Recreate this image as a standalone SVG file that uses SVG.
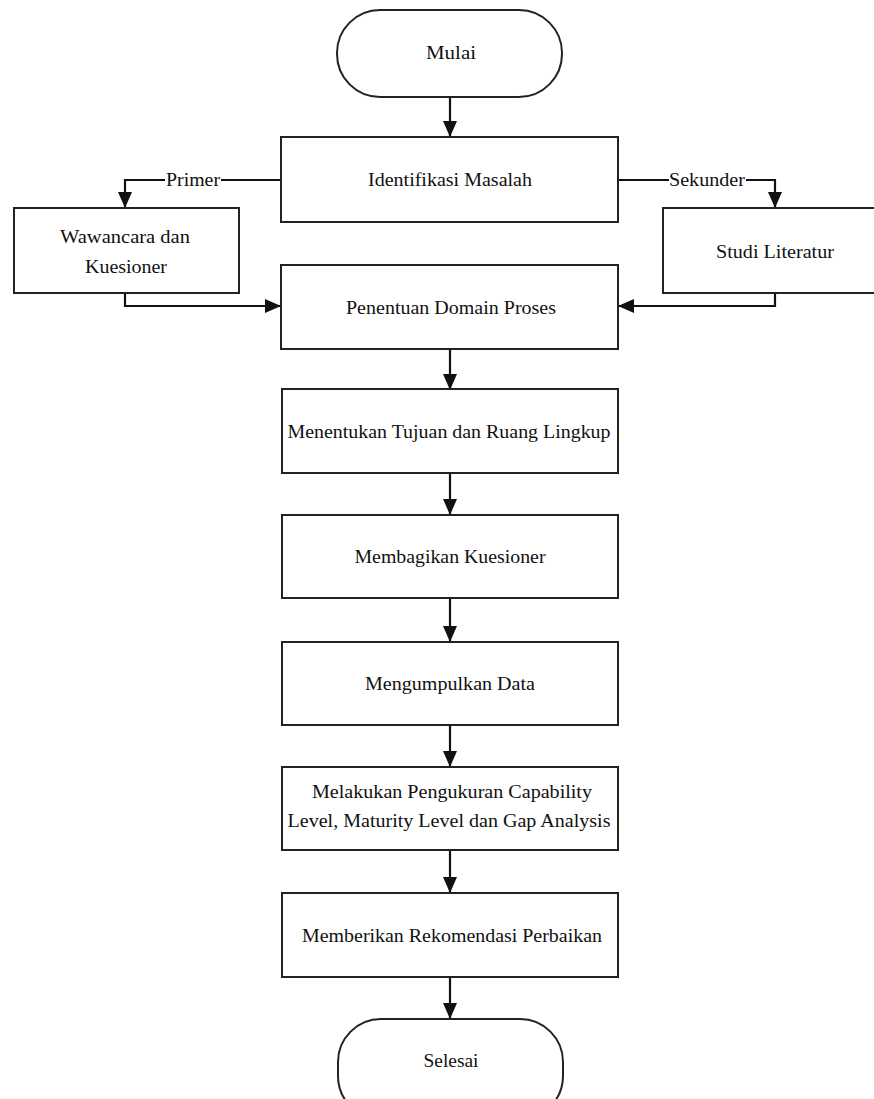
<svg xmlns="http://www.w3.org/2000/svg" width="874" height="1099" viewBox="0 0 874 1099">
<style>
.box{fill:#fff;stroke:#222;stroke-width:2}
.t{font-family:"Liberation Serif","Times New Roman",serif;font-size:18px;fill:#111;text-anchor:middle}
.c{fill:none;stroke:#111;stroke-width:2.2}
</style>
<defs>
<marker id="ah" markerWidth="16" markerHeight="14" refX="15" refY="7" orient="auto" markerUnits="userSpaceOnUse">
<path d="M0,0 L16,7 L0,14 Z" fill="#111"/>
</marker>
</defs>
<rect width="874" height="1099" fill="#fff"/>
<g id="connectors">
<line class="c" x1="450" y1="97" x2="450" y2="136" marker-end="url(#ah)"/>
<path class="c" d="M281,180 H125 V207" marker-end="url(#ah)"/>
<path class="c" d="M618,180 H775 V207" marker-end="url(#ah)"/>
<path class="c" d="M125,293 V306 H280" marker-end="url(#ah)"/>
<path class="c" d="M775,293 V306 H619" marker-end="url(#ah)"/>
<line class="c" x1="450" y1="349" x2="450" y2="389" marker-end="url(#ah)"/>
<line class="c" x1="450" y1="473" x2="450" y2="514" marker-end="url(#ah)"/>
<line class="c" x1="450" y1="598" x2="450" y2="641" marker-end="url(#ah)"/>
<line class="c" x1="450" y1="725" x2="450" y2="766" marker-end="url(#ah)"/>
<line class="c" x1="450" y1="850" x2="450" y2="892" marker-end="url(#ah)"/>
<line class="c" x1="450" y1="977" x2="450" y2="1018" marker-end="url(#ah)"/>
<rect x="165" y="171" width="56" height="18" fill="#fff"/>
<text class="t" x="193" y="186" textLength="54" lengthAdjust="spacingAndGlyphs">Primer</text>
<rect x="669" y="171" width="77" height="18" fill="#fff"/>
<text class="t" x="707" y="186" textLength="76" lengthAdjust="spacingAndGlyphs">Sekunder</text>
</g>
<g id="mulai">
<rect class="box" x="337" y="10" width="225" height="87" rx="43" ry="43"/>
<text class="t" x="451" y="59" textLength="50" lengthAdjust="spacingAndGlyphs">Mulai</text>
</g>
<g id="identifikasi">
<rect class="box" x="281" y="137" width="337" height="85"/>
<text class="t" x="450" y="186" textLength="164" lengthAdjust="spacingAndGlyphs">Identifikasi Masalah</text>
</g>
<g id="wawancara">
<rect class="box" x="14" y="208" width="225" height="85"/>
<text class="t" x="125" y="243" textLength="130" lengthAdjust="spacingAndGlyphs">Wawancara dan</text>
<text class="t" x="126" y="273" textLength="82" lengthAdjust="spacingAndGlyphs">Kuesioner</text>
</g>
<g id="studi">
<rect class="box" x="663" y="208" width="220" height="85"/>
<text class="t" x="775" y="258" textLength="118" lengthAdjust="spacingAndGlyphs">Studi Literatur</text>
</g>
<g id="penentuan">
<rect class="box" x="281" y="265" width="337" height="84"/>
<text class="t" x="451" y="314" textLength="210" lengthAdjust="spacingAndGlyphs">Penentuan Domain Proses</text>
</g>
<g id="menentukan">
<rect class="box" x="282" y="389" width="336" height="84"/>
<text class="t" x="449" y="438" textLength="323" lengthAdjust="spacingAndGlyphs">Menentukan Tujuan dan Ruang Lingkup</text>
</g>
<g id="membagikan">
<rect class="box" x="282" y="515" width="336" height="83"/>
<text class="t" x="450" y="563" textLength="191" lengthAdjust="spacingAndGlyphs">Membagikan Kuesioner</text>
</g>
<g id="mengumpulkan">
<rect class="box" x="282" y="642" width="336" height="83"/>
<text class="t" x="450" y="690" textLength="170" lengthAdjust="spacingAndGlyphs">Mengumpulkan Data</text>
</g>
<g id="melakukan">
<rect class="box" x="282" y="767" width="336" height="83"/>
<text class="t" x="452" y="798" textLength="280" lengthAdjust="spacingAndGlyphs">Melakukan Pengukuran Capability</text>
<text class="t" x="449" y="827" textLength="323" lengthAdjust="spacingAndGlyphs">Level, Maturity Level dan Gap Analysis</text>
</g>
<g id="memberikan">
<rect class="box" x="282" y="893" width="336" height="84"/>
<text class="t" x="452" y="942" textLength="300" lengthAdjust="spacingAndGlyphs">Memberikan Rekomendasi Perbaikan</text>
</g>
<g id="selesai">
<rect class="box" x="338" y="1019" width="225" height="100" rx="43" ry="43"/>
<text class="t" x="451" y="1067" textLength="55" lengthAdjust="spacingAndGlyphs">Selesai</text>
</g>
</svg>
